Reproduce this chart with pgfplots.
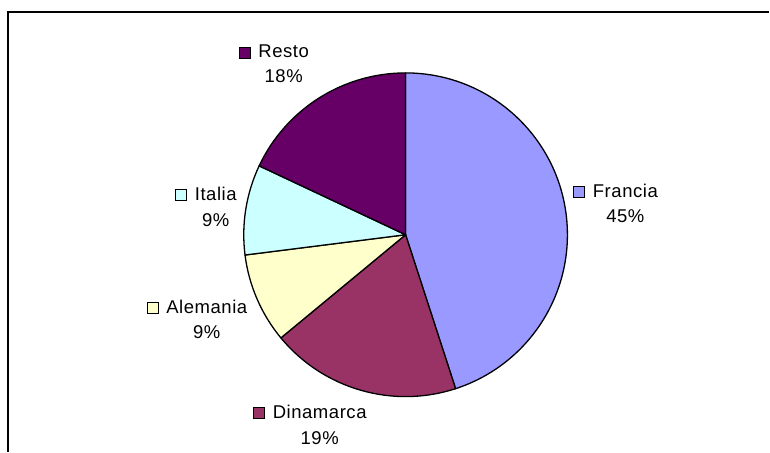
\documentclass[border=0pt]{standalone}
\usepackage{pgfplots}
\pgfplotsset{compat=1.18}
\usepackage{pgfplotstable}
\usepackage{fontspec}
\setmainfont[LetterSpace=3]{Liberation Sans}
\definecolor{pc0}{HTML}{9999FF}
\definecolor{pc1}{HTML}{993366}
\definecolor{pc2}{HTML}{FFFFCC}
\definecolor{pc3}{HTML}{CCFFFF}
\definecolor{pc4}{HTML}{660066}
\newcommand\lblfont{\fontsize{18.5bp}{20bp}\selectfont}
% name, share (%), label centre x, baseline of name, baseline of share (pixels from top)
\pgfplotstableread{
name      value lx  ly1 ly2
Francia   45    626 198 223
Dinamarca 19    320 419 445
Alemania  9     207 314 339
Italia    9     216 201 227
Resto     18    284 58  83
}\piedata
\begin{document}
\begin{tikzpicture}
\def\cum{0}
\gdef\piecmds{}
\gdef\lblcmds{}
\pgfplotsforeachungrouped \i in {0,...,4}{%
  \pgfplotstablegetelem{\i}{value}\of\piedata
  \let\pv\pgfplotsretval
  \pgfplotstablegetelem{\i}{name}\of\piedata
  \let\pn\pgfplotsretval
  \pgfplotstablegetelem{\i}{lx}\of\piedata
  \let\lx\pgfplotsretval
  \pgfplotstablegetelem{\i}{ly1}\of\piedata
  \pgfmathsetmacro\ya{452-\pgfplotsretval}%
  \pgfplotstablegetelem{\i}{ly2}\of\piedata
  \pgfmathsetmacro\yb{452-\pgfplotsretval}%
  \pgfmathsetmacro\a{90-3.6*\cum}%
  \pgfmathsetmacro\cum{\cum+\pv}%
  \pgfmathsetmacro\b{90-3.6*\cum}%
  \xdef\piecmds{\unexpanded\expandafter{\piecmds}%
    \noexpand\filldraw[fill=pc\i, draw=black, line width=1.3bp, line join=round]
      (axis cs:406,217) -- ++(\a:162bp) arc[start angle=\a, end angle=\b, radius=162bp] -- cycle;}%
  \xdef\lblcmds{\unexpanded\expandafter{\lblcmds}%
    \noexpand\node[anchor=base, inner sep=0pt, font=\noexpand\lblfont] (L\i) at (axis cs:\lx,\ya) {\pn};
    \noexpand\node[anchor=base, inner sep=0pt, font=\noexpand\lblfont] at (axis cs:\lx,\yb) {\pv\noexpand\%};
    \noexpand\filldraw[fill=pc\i, draw=black, line width=0.7bp] ([xshift=-8bp]L\i.base west) rectangle ++(-11bp,11bp);}%
}
\begin{axis}[x=1bp, y=1bp, xmin=0, xmax=770, ymin=0, ymax=452,
  hide axis, clip=false, scale only axis]
\path (rel axis cs:0,0) rectangle (rel axis cs:1,1);
\draw[line width=1.6bp] (axis cs:8,0) -- (axis cs:8,440) -- (axis cs:770,440);
\piecmds
\lblcmds
\end{axis}
\end{tikzpicture}
\end{document}
